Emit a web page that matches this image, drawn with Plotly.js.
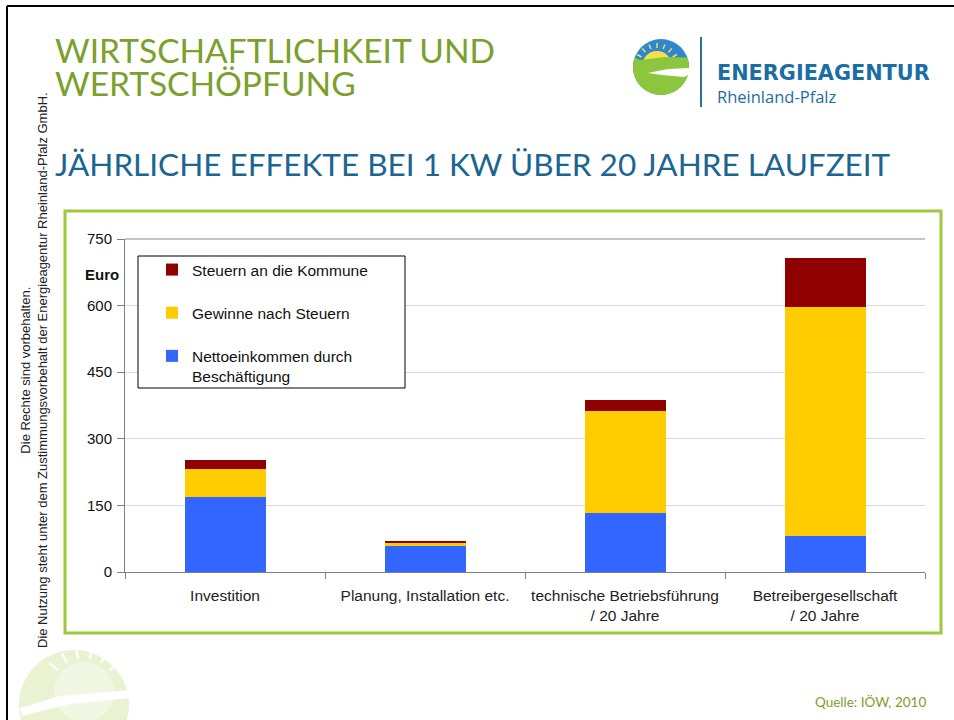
<!DOCTYPE html>
<html>
<head>
<meta charset="utf-8">
<script src="https://cdn.plot.ly/plotly-3.0.1.min.js"></script>
<style>
  body { margin: 0; background: #fff; }
  #chart { width: 954px; height: 720px; }
</style>
</head>
<body>
<div id="chart"></div>
<script>
// Data (Euro per kW, 20 years)
var categories = [
    "Investition",
    "Planung, Installation etc.",
    "technische Betriebsführung<br>/ 20 Jahre",
    "Betreibergesellschaft<br>/ 20 Jahre"
];
var nettoeinkommen = [169, 59, 132, 82];
var gewinne = [62, 6, 230, 514];
var steuern = [21, 5, 26, 112];

var seriesNames = ["Nettoeinkommen durch<br>Beschäftigung", "Gewinne nach Steuern", "Steuern an die Kommune"];
var seriesColors = ["#3366ff", "#ffcc00", "#8f0000"];

// plot area in page pixels, used to place the slide decoration
var L = 125, T = 239, W = 800, H = 333;
function X(p) { return (p - L) / W; }
function Y(p) { return (T + H - p) / H; }
function pts(list) {
    return "M" + list.map(function(q) { return X(q[0]) + "," + Y(q[1]); }).join("L") + "Z";
}
function arc(cx, cy, r, a0, a1, n) {
    var out = [];
    for (var i = 0; i <= n; i++) {
        var a = (a0 + (a1 - a0) * i / n) * Math.PI / 180;
        out.push([cx + r * Math.cos(a), cy - r * Math.sin(a)]);
    }
    return out;
}
function circle(cx, cy, r, fill) {
    return {type: "circle", xref: "paper", yref: "paper", layer: "above",
        x0: X(cx - r), x1: X(cx + r), y0: Y(cy + r), y1: Y(cy - r),
        fillcolor: fill, line: {width: 0}};
}
function path(list, fill) {
    return {type: "path", xref: "paper", yref: "paper", layer: "above",
        path: pts(list), fillcolor: fill, line: {width: 0}};
}
function line(x0, y0, x1, y1, color, width) {
    return {type: "line", xref: "paper", yref: "paper", layer: "above",
        x0: X(x0), x1: X(x1), y0: Y(y0), y1: Y(y1), line: {color: color, width: width}};
}

var trace1 = {
    x: categories, y: nettoeinkommen, type: "bar", name: seriesNames[0],
    marker: {color: seriesColors[0]}, legendgroup: "a", legendrank: 3
};
var trace2 = {
    x: categories, y: gewinne, type: "bar", name: seriesNames[1],
    marker: {color: seriesColors[1]}, legendgroup: "b", legendrank: 2
};
var trace3 = {
    x: categories, y: steuern, type: "bar", name: seriesNames[2],
    marker: {color: seriesColors[2]}, legendgroup: "c", legendrank: 1
};
var data = [trace1, trace2, trace3];

// logo top right
var logo = [
    circle(661, 67, 28, "#2f87cf"),
    circle(657, 66, 15, "#f4e04d")
];
for (var k = 0; k < 7; k++) {
    var a = (30 + k * 20) * Math.PI / 180;
    logo.push(line(657 + 18 * Math.cos(a), 66 - 18 * Math.sin(a),
        657 + 23 * Math.cos(a), 66 - 23 * Math.sin(a), "#f4e04d", 1.5));
}
logo.push(path(arc(661, 67, 28, 20, -200, 40).concat([[640, 60], [665, 57]]), "#8cc63f"));
logo.push(path([[690, 68], [668, 69], [648, 73], [662, 75], [684, 77], [690, 74]], "#ffffff"));

// faded logo bottom left
var mark = [
    circle(74, 705, 55, "#e9f2d1"),
    circle(84, 692, 30, "#f2f7e3")
];
for (var j = 0; j < 6; j++) {
    var b = (40 + j * 20) * Math.PI / 180;
    mark.push(line(84 + 34 * Math.cos(b), 692 - 34 * Math.sin(b),
        84 + 45 * Math.cos(b), 692 - 45 * Math.sin(b), "#ffffff", 2.5));
}
mark.push(path([[20, 708], [60, 696], [130, 690], [130, 698], [70, 704], [22, 716]], "#ffffff"));

var shapes = [
    line(7, 6, 7, 720, "#000000", 2),
    line(7, 6, 954, 6, "#000000", 2),
    {type: "rect", xref: "paper", yref: "paper", layer: "above",
        x0: X(65), x1: X(941), y0: Y(633), y1: Y(211), line: {color: "#9dc93c", width: 3}},
    {type: "rect", xref: "paper", yref: "paper", layer: "above",
        x0: X(138), x1: X(405), y0: Y(388), y1: Y(256), fillcolor: "#ffffff", line: {color: "#000000", width: 1}},
    line(125, 239, 925, 239, "#8a8a8a", 1),
    line(701, 37, 701, 107, "#2a6f97", 2)
].concat(logo, mark);

var annotations = [
    {text: "WIRTSCHAFTLICHKEIT UND", x: X(53), y: Y(50), xanchor: "left", yanchor: "middle",
        font: {family: "Lato", size: 33.5, color: "#7ba02b"}},
    {text: "WERTSCHÖPFUNG", x: X(53), y: Y(83), xanchor: "left", yanchor: "middle",
        font: {family: "Lato", size: 33.5, color: "#7ba02b"}},
    {text: "JÄHRLICHE EFFEKTE BEI 1 KW ÜBER 20 JAHRE LAUFZEIT", x: X(53), y: Y(164), xanchor: "left", yanchor: "middle",
        font: {family: "Lato", size: 31.5, color: "#1c6592"}},
    {text: "<b>ENERGIEAGENTUR</b>", x: X(715), y: Y(73), xanchor: "left", yanchor: "middle",
        font: {family: "DejaVu Sans", size: 20.8, color: "#1b6ea3"}},
    {text: "Rheinland-Pfalz", x: X(715), y: Y(96), xanchor: "left", yanchor: "middle",
        font: {family: "Open Sans", size: 16.5, color: "#1b6ea3"}},
    {text: "<b>Euro</b>", x: X(121), y: Y(274), xanchor: "right", yanchor: "middle",
        font: {family: "Liberation Sans", size: 15, color: "#111111"}},
    {text: "Quelle: IÖW, 2010", x: X(928), y: Y(702), xanchor: "right", yanchor: "middle",
        font: {family: "Lato", size: 13.5, color: "#7ba02b"}},
    {text: "Die Rechte sind vorbehalten.<br>Die Nutzung steht unter dem Zustimmungsvorbehalt der Energieagentur Rheinland-Pfalz GmbH.",
        x: X(34), y: Y(370), xanchor: "center", yanchor: "middle", textangle: -90,
        font: {family: "Liberation Sans", size: 13, color: "#222222"}}
];
annotations.forEach(function(a) { a.xref = "paper"; a.yref = "paper"; a.showarrow = false; });

var layout = {
    width: 954,
    height: 720,
    margin: {l: L, r: 954 - L - W, t: T, b: 720 - T - H},
    paper_bgcolor: "#ffffff",
    plot_bgcolor: "#ffffff",
    barmode: "stack",
    bargap: 0.595,
    font: {family: "Liberation Sans, Arial", color: "#222222"},
    showlegend: true,
    legend: {
        x: X(152), y: Y(253), xanchor: "left", yanchor: "top",
        traceorder: "grouped", tracegroupgap: 20, valign: "top",
        bgcolor: "rgba(0,0,0,0)", font: {size: 15.5, color: "#111111"}
    },
    xaxis: {
        type: "category", tickson: "boundaries", ticks: "outside", ticklen: 6,
        tickcolor: "#808080", showline: true, linecolor: "#808080", showgrid: false,
        ticklabelstandoff: 9, tickfont: {size: 15.5, color: "#222222"}
    },
    yaxis: {
        range: [0, 750], dtick: 150, ticks: "outside", ticklen: 7, tickcolor: "#808080",
        showline: true, linecolor: "#808080", gridcolor: "#d9d9d9", zeroline: false,
        ticklabelstandoff: 2, tickfont: {size: 15, color: "#111111"}
    },
    shapes: shapes,
    annotations: annotations
};

Plotly.newPlot("chart", data, layout, {displayModeBar: false, staticPlot: true});
</script>
</body>
</html>
